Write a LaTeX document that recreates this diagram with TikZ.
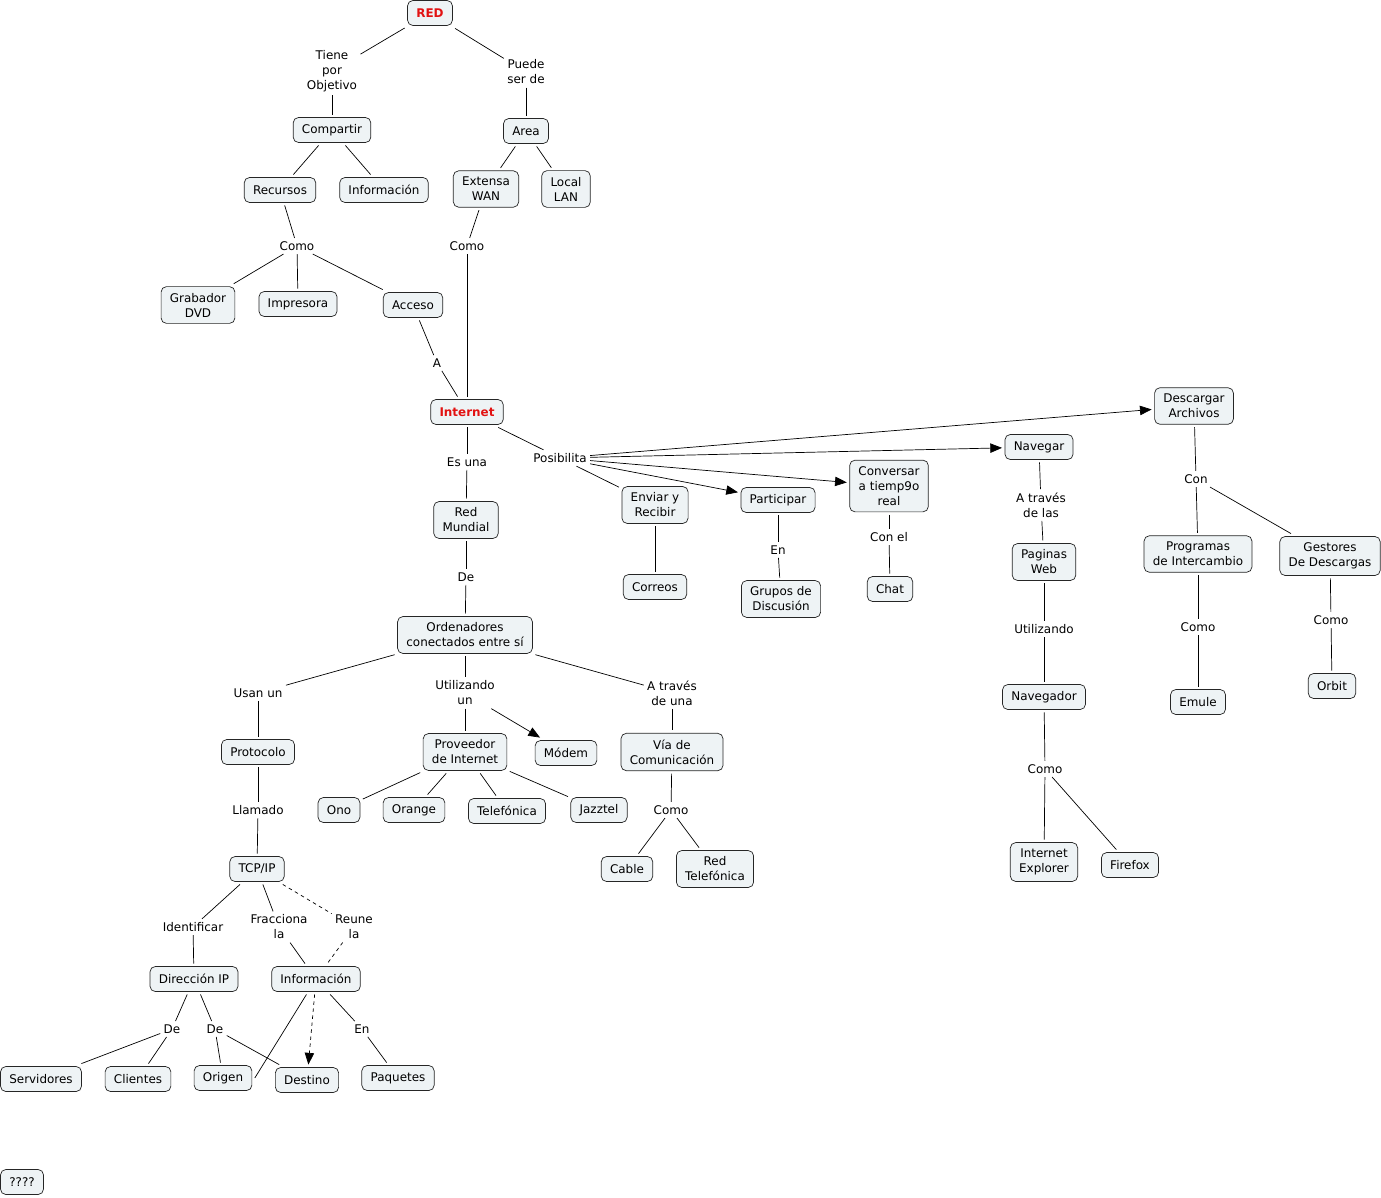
\documentclass[tikz,border=0pt]{standalone}
\usepackage{fontspec}
\setmainfont{DejaVu Sans}
\usetikzlibrary{arrows.meta}

\definecolor{cmfill}{RGB}{238,243,245}
\definecolor{cmred}{RGB}{226,18,18}
\newcommand\cmfont{\fontsize{10.2}{12.8}\selectfont}

\begin{document}
\begin{tikzpicture}[
x=0.03cm, y=-0.03cm,
font=\cmfont,
concept/.style={
draw=black!85,
fill=cmfill,
rounded corners=4.5pt,
align=center,
inner xsep=7.5pt,
inner ysep=5.4pt,
minimum height=0.75cm,
outer sep=2.5pt
},
keyconcept/.style={concept, font=\cmfont\bfseries, text=cmred},
link/.style={align=center, inner sep=1.5pt, outer sep=1.5pt},
every path/.style={line width=0.6pt},
arr/.style={-{Triangle[length=10pt,width=8pt]}}
]
\useasboundingbox (0,0) rectangle (1381,1197);

% concepts
\node[keyconcept] (RED) at (430,13) {RED};
\node[concept] (Comp) at (332,130) {Compartir};
\node[concept] (Area) at (526,131) {Area};
\node[concept] (Recu) at (280,190) {Recursos};
\node[concept] (InfoA) at (384,190) {Información};
\node[concept] (WAN) at (486,189) {Extensa\\WAN};
\node[concept] (LAN) at (566,189) {Local\\LAN};
\node[concept] (Grab) at (198,305) {Grabador\\DVD};
\node[concept] (Impr) at (298,304) {Impresora};
\node[concept] (Acce) at (413,305) {Acceso};
\node[keyconcept] (Inet) at (467,412) {Internet};
\node[concept] (RedM) at (466,520) {Red\\Mundial};
\node[concept] (Envi) at (655,505) {Enviar y\\Recibir};
\node[concept] (Corr) at (655,587) {Correos};
\node[concept] (Part) at (778,500) {Participar};
\node[concept] (Grup) at (781,599) {Grupos de\\Discusión};
\node[concept] (Conv) at (889,486) {Conversar\\a tiemp9o\\real};
\node[concept] (Chat) at (890,589) {Chat};
\node[concept] (Nave) at (1039,447) {Navegar};
\node[concept] (Desc) at (1194,406) {Descargar\\Archivos};
\node[concept] (PagW) at (1044,562) {Paginas\\Web};
\node[concept] (Navr) at (1044,697) {Navegador};
\node[concept] (IExp) at (1044,862) {Internet\\Explorer};
\node[concept] (Fire) at (1130,865) {Firefox};
\node[concept] (Prog) at (1198,554) {Programas\\de Intercambio};
\node[concept] (Gest) at (1330,556) {Gestores\\De Descargas};
\node[concept] (Emul) at (1198,702) {Emule};
\node[concept] (Orbi) at (1332,686) {Orbit};
\node[concept] (Orde) at (465,635) {Ordenadores\\conectados entre sí};
\node[concept] (Prot) at (258,752) {Protocolo};
\node[concept] (Prov) at (465,752) {Proveedor\\de Internet};
\node[concept] (Mode) at (566,753) {Módem};
\node[concept] (Via) at (672,752) {Vía de\\Comunicación};
\node[concept] (Ono) at (339,810) {Ono};
\node[concept] (Oran) at (414,810) {Orange};
\node[concept] (Tele) at (507,811) {Telefónica};
\node[concept] (Jazz) at (599,810) {Jazztel};
\node[concept] (Cabl) at (627,869) {Cable};
\node[concept] (RedT) at (715,869) {Red\\Telefónica};
\node[concept] (TCP) at (257,869) {TCP/IP};
\node[concept] (DirIP) at (194,979) {Dirección IP};
\node[concept] (InfoB) at (316,979) {Información};
\node[concept] (Serv) at (41,1079) {Servidores};
\node[concept] (Clie) at (138,1079) {Clientes};
\node[concept] (Orig) at (223,1078) {Origen};
\node[concept] (Dest) at (307,1080) {Destino};
\node[concept] (Paqu) at (398,1078) {Paquetes};
\node[concept] (Unk) at (22,1182) {????};

% linking phrases
\node[link] (tpo) at (332,71) {Tiene\\por\\Objetivo};
\node[link] (psd) at (526,72) {Puede\\ser de};
\node[link] (como1) at (297,246) {Como};
\node[link] (como2) at (467,246) {Como};
\node[link] (a) at (437,363) {A};
\node[link] (esuna) at (467,462) {Es una};
\node[link] (posi) at (560,458) {Posibilita};
\node[link] (de1) at (466,577) {De};
\node[link] (en1) at (778,550) {En};
\node[link] (conel) at (889,537) {Con el};
\node[link] (atlas) at (1041,505) {A través\\de las};
\node[link] (util1) at (1044,629) {Utilizando};
\node[link] (como3) at (1045,769) {Como};
\node[link] (con) at (1196,479) {Con};
\node[link] (como4) at (1198,627) {Como};
\node[link] (como5) at (1331,620) {Como};
\node[link] (usan) at (258,693) {Usan un};
\node[link] (util2) at (465,693) {Utilizando\\un};
\node[link] (atuna) at (672,693) {A través\\de una};
\node[link] (llam) at (258,810) {Llamado};
\node[link] (como6) at (671,810) {Como};
\node[link] (iden) at (193,927) {Identificar};
\node[link] (frac) at (279,927) {Fracciona\\la};
\node[link] (reun) at (354,927) {Reune\\la};
\node[link] (de2) at (172,1029) {De};
\node[link] (de3) at (215,1029) {De};
\node[link] (en2) at (362,1029) {En};

% connectors
\draw (RED) -- (tpo);
\draw (tpo) -- (Comp);
\draw (RED) -- (psd);
\draw (psd) -- (Area);
\draw (Comp) -- (Recu);
\draw (Comp) -- (InfoA);
\draw (Area) -- (WAN);
\draw (Area) -- (LAN);
\draw (Recu) -- (como1);
\draw (como1) -- (Grab);
\draw (como1) -- (Impr);
\draw (como1) -- (Acce);
\draw (WAN) -- (como2);
\draw (como2) -- (Inet);
\draw (Acce) -- (a);
\draw (a) -- (Inet);
\draw (Inet) -- (esuna);
\draw (esuna) -- (RedM);
\draw (Inet) -- (posi);
\draw (posi) -- (Envi);
\draw[arr] (posi) -- (Part);
\draw[arr] (posi) -- (Conv);
\draw[arr] (posi) -- (Nave);
\draw[arr] (posi) -- (Desc);
\draw (Envi) -- (Corr);
\draw (Part) -- (en1);
\draw (en1) -- (Grup);
\draw (Conv) -- (conel);
\draw (conel) -- (Chat);
\draw (Nave) -- (atlas);
\draw (atlas) -- (PagW);
\draw (PagW) -- (util1);
\draw (util1) -- (Navr);
\draw (Navr) -- (como3);
\draw (como3) -- (IExp);
\draw (como3) -- (Fire);
\draw (Desc) -- (con);
\draw (con) -- (Prog);
\draw (con) -- (Gest);
\draw (Prog) -- (como4);
\draw (como4) -- (Emul);
\draw (Gest) -- (como5);
\draw (como5) -- (Orbi);
\draw (RedM) -- (de1);
\draw (de1) -- (Orde);
\draw (Orde) -- (usan);
\draw (usan) -- (Prot);
\draw (Orde) -- (util2);
\draw (util2) -- (Prov);
\draw[arr] (util2) -- (Mode);
\draw (Orde) -- (atuna);
\draw (atuna) -- (Via);
\draw (Prov) -- (Ono);
\draw (Prov) -- (Oran);
\draw (Prov) -- (Tele);
\draw (Prov) -- (Jazz);
\draw (Via) -- (como6);
\draw (como6) -- (Cabl);
\draw (como6) -- (RedT);
\draw (Prot) -- (llam);
\draw (llam) -- (TCP);
\draw (TCP) -- (iden);
\draw (iden) -- (DirIP);
\draw (TCP) -- (frac);
\draw (frac) -- (InfoB);
\draw[dashed] (TCP) -- (reun);
\draw[dashed] (reun) -- (InfoB);
\draw (DirIP) -- (de2);
\draw (de2) -- (Serv);
\draw (de2) -- (Clie);
\draw (DirIP) -- (de3);
\draw (de3) -- (Orig);
\draw (de3) -- (Dest);
\draw (InfoB) -- (Orig.east);
\draw[dashed, arr] (InfoB) -- (Dest);
\draw (InfoB) -- (en2);
\draw (en2) -- (Paqu);

\end{tikzpicture}
\end{document}
